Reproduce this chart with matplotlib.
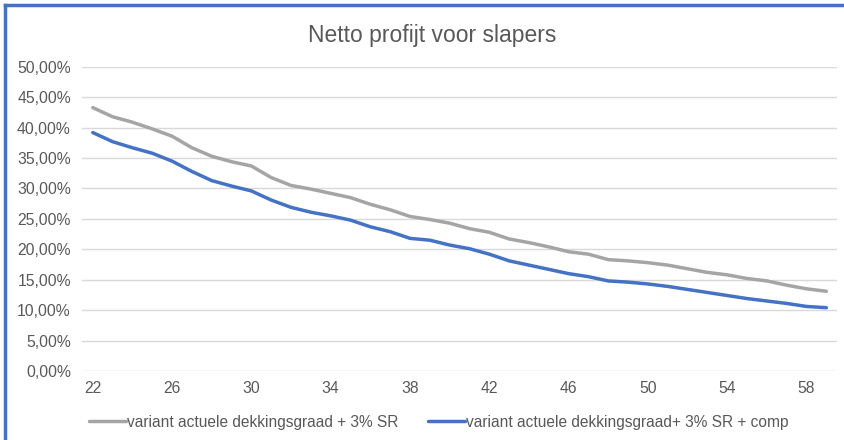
import matplotlib
matplotlib.use("Agg")
import matplotlib.pyplot as plt
from matplotlib.lines import Line2D
from matplotlib.ticker import FuncFormatter, MultipleLocator

plt.rcParams['font.family'] = ['Liberation Sans', 'DejaVu Sans']

# leeftijden 22 t/m 59
leeftijd = list(range(22, 60))

# netto profijt in procenten
variant_sr = [43.3, 41.8, 40.9, 39.8, 38.6, 36.7, 35.3, 34.4, 33.7, 31.8,
              30.5, 29.9, 29.2, 28.5, 27.4, 26.5, 25.4, 24.9, 24.3, 23.4,
              22.8, 21.7, 21.1, 20.4, 19.6, 19.2, 18.3, 18.1, 17.8, 17.4,
              16.8, 16.2, 15.8, 15.2, 14.8, 14.1, 13.5, 13.1]
variant_comp = [39.2, 37.7, 36.7, 35.8, 34.5, 32.8, 31.3, 30.4, 29.6, 28.1,
                26.9, 26.1, 25.5, 24.8, 23.7, 22.9, 21.8, 21.5, 20.7, 20.1,
                19.2, 18.1, 17.4, 16.7, 16.0, 15.5, 14.8, 14.6, 14.3, 13.9,
                13.4, 12.9, 12.4, 11.9, 11.5, 11.1, 10.6, 10.4]

label_sr = "variant actuele dekkingsgraad + 3% SR"
label_comp = "variant actuele dekkingsgraad+ 3% SR + comp"

tekst_kleur = "#595959"

fig = plt.figure(figsize=(8.44, 4.4), dpi=100)
ax = fig.add_axes([0.097, 0.157, 0.895, 0.691])

ax.plot(leeftijd, variant_sr, color="#A5A5A5", lw=2.5, label=label_sr,
        solid_capstyle="round", solid_joinstyle="round")
ax.plot(leeftijd, variant_comp, color="#4472C4", lw=2.5, label=label_comp,
        solid_capstyle="round", solid_joinstyle="round")

ax.set_xlim(21.45, 59.55)
ax.set_ylim(0, 50)
ax.yaxis.set_major_locator(MultipleLocator(5))
ax.yaxis.set_major_formatter(FuncFormatter(lambda v, p: f"{v:.2f}%".replace(".", ",")))
ax.set_xticks(range(22, 60, 4))

ax.grid(axis="y", color="#D9D9D9", lw=1)
ax.set_axisbelow(True)
for s in ax.spines.values():
    s.set_visible(False)
ax.tick_params(length=0, labelsize=11.3, colors=tekst_kleur)
ax.tick_params(axis="x", pad=7)
ax.tick_params(axis="y", pad=8)

fig.text(0.512, 0.92, "Netto profijt voor slapers", ha="center", va="center",
         fontsize=16.5, color=tekst_kleur)

fig.legend(loc="center", bbox_to_anchor=(0.52, 0.04), ncol=2, frameon=False,
           fontsize=11.2, labelcolor=tekst_kleur, handlelength=2.4,
           handletextpad=0.05, columnspacing=1.9)

# kader van het grafiekobject (links en boven)
fig.add_artist(Line2D([0.0065, 0.0065], [0, 0.989], color="#4472C4", lw=2.5))
fig.add_artist(Line2D([0.0065, 1], [0.989, 0.989], color="#4472C4", lw=2.5))

fig.savefig("out.png", dpi=100)
